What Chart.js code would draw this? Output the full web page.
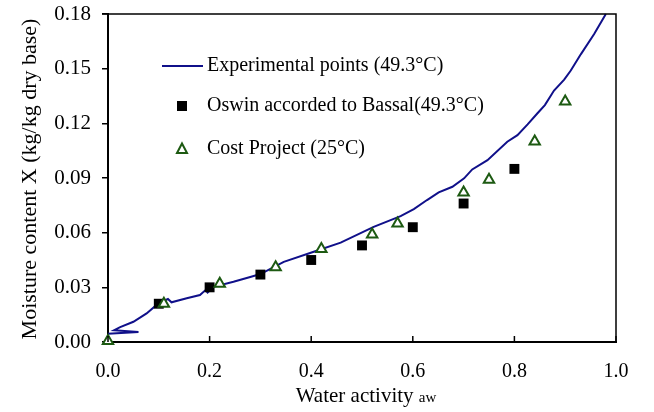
<!DOCTYPE html>
<html><head><meta charset="utf-8">
<script src="https://cdn.jsdelivr.net/npm/chart.js@4.4.1/dist/chart.umd.min.js"></script>
<style>html,body{margin:0;padding:0;background:#fff;}#wrap{width:654px;height:412px;}</style>
</head><body><div id="wrap"><canvas id="c" width="654" height="412"></canvas></div>
<script>
// ---- data ----
const expAw = [0.000, 0.060, 0.012, 0.024, 0.050, 0.076, 0.099, 0.118, 0.125, 0.155, 0.181, 0.192, 0.196, 0.208, 0.247, 0.280, 0.300, 0.346, 0.405, 0.458, 0.523, 0.576, 0.602, 0.628, 0.651, 0.678, 0.701, 0.717, 0.747, 0.786, 0.806, 0.826, 0.845, 0.860, 0.878, 0.898, 0.911, 0.931, 0.957, 0.980];
const expX  = [0.0045, 0.0055, 0.0065, 0.0082, 0.0111, 0.0157, 0.0212, 0.0236, 0.0218, 0.0240, 0.0258, 0.0285, 0.0272, 0.0303, 0.0331, 0.0357, 0.0373, 0.0440, 0.0495, 0.0545, 0.0632, 0.0691, 0.0729, 0.0779, 0.0821, 0.0852, 0.0898, 0.0947, 0.0998, 0.1099, 0.1135, 0.1194, 0.1254, 0.1300, 0.1380, 0.1440, 0.1490, 0.1580, 0.1690, 0.1800];
const oswinAw = [0.1, 0.2, 0.3, 0.4, 0.5, 0.6, 0.7, 0.8];
const oswinX  = [0.021, 0.030, 0.037, 0.045, 0.053, 0.063, 0.076, 0.095];
const costAw = [0.0, 0.11, 0.22, 0.33, 0.42, 0.52, 0.57, 0.70, 0.75, 0.84, 0.90];
const costX  = [0.0005, 0.021, 0.032, 0.041, 0.051, 0.059, 0.065, 0.082, 0.089, 0.110, 0.132];
const xTicks = [0.0, 0.2, 0.4, 0.6, 0.8, 1.0];
const yTicks = [0.00, 0.03, 0.06, 0.09, 0.12, 0.15, 0.18];
const seriesNames = ["Experimental points (49.3°C)", "Oswin accorded to Bassal(49.3°C)", "Cost Project (25°C)"];
const xTitle = "Water activity ";
const xTitleSub = "aw";
const yTitle = "Moisture content X (kg/kg dry base)";

const FONT = "'Liberation Serif', 'Times New Roman', serif";
const LINE_COLOR = '#10108a';
const TRI_COLOR = '#1d5a12';

const zip = (a, b) => a.map((v, i) => ({x: v, y: b[i]}));

const deco = {
  id: 'deco',
  afterDraw(chart) {
    const ctx = chart.ctx, a = chart.chartArea;
    const xs = chart.scales.x;
    ctx.save();
    // frame top & right
    ctx.strokeStyle = '#000'; ctx.lineWidth = 1.5;
    ctx.beginPath();
    ctx.moveTo(a.left - 6, a.top); ctx.lineTo(a.right, a.top); ctx.lineTo(a.right, a.bottom);
    ctx.stroke();
    // x ticks pointing inward
    xTicks.forEach(v => {
      const px = xs.getPixelForValue(v);
      ctx.beginPath(); ctx.moveTo(px, a.bottom); ctx.lineTo(px, a.bottom - 6); ctx.stroke();
    });
    // legend
    ctx.fillStyle = '#000';
    ctx.font = '20px ' + FONT;
    ctx.textBaseline = 'middle'; ctx.textAlign = 'left';
    const lx = 182, tx = 207, rows = [66, 106, 149];
    ctx.strokeStyle = LINE_COLOR; ctx.lineWidth = 2;
    ctx.beginPath(); ctx.moveTo(162, rows[0]); ctx.lineTo(203, rows[0]); ctx.stroke();
    ctx.fillText(seriesNames[0], tx, rows[0]);
    ctx.fillRect(lx - 5, rows[1] - 5, 10, 10);
    ctx.fillText(seriesNames[1], tx, rows[1]);
    ctx.strokeStyle = TRI_COLOR; ctx.lineWidth = 2;
    ctx.beginPath();
    ctx.moveTo(lx, rows[2] - 5.5); ctx.lineTo(lx + 5, rows[2] + 4); ctx.lineTo(lx - 5, rows[2] + 4); ctx.closePath();
    ctx.stroke();
    ctx.fillText(seriesNames[2], tx, rows[2]);
    // x title
    ctx.font = '21px ' + FONT;
    const w1 = ctx.measureText(xTitle).width;
    ctx.font = '15px ' + FONT;
    const w2 = ctx.measureText(xTitleSub).width;
    const cx = 366, by = 402;
    const sx = cx - (w1 + w2) / 2;
    ctx.textBaseline = 'alphabetic';
    ctx.font = '21px ' + FONT; ctx.fillText(xTitle, sx, by);
    ctx.font = '15px ' + FONT; ctx.fillText(xTitleSub, sx + w1, by);
    // y title
    ctx.translate(30, 179); ctx.rotate(-Math.PI / 2);
    ctx.font = '22px ' + FONT; ctx.textAlign = 'center'; ctx.textBaseline = 'middle';
    ctx.fillText(yTitle, 0, 0);
    ctx.restore();
  }
};

new Chart(document.getElementById('c'), {
  type: 'scatter',
  data: {
    datasets: [
      { label: seriesNames[1], data: zip(oswinAw, oswinX), pointStyle: 'rect', pointRadius: 7, pointHoverRadius: 7,
        backgroundColor: '#000', borderColor: '#000', borderWidth: 0, clip: false, order: 2 },
      { label: seriesNames[2], data: zip(costAw, costX), pointStyle: 'triangle', pointRadius: 6, pointHoverRadius: 6,
        backgroundColor: '#fff', borderColor: TRI_COLOR, borderWidth: 2, clip: false, order: 1 },
      { label: seriesNames[0], data: zip(expAw, expX), showLine: true, pointRadius: 0, borderColor: LINE_COLOR,
        borderWidth: 2, tension: 0, clip: false, order: 3 }
    ]
  },
  options: {
    responsive: false, animation: false, devicePixelRatio: 1,
    layout: { padding: { left: 0, top: 14, right: 38, bottom: 0 } },
    plugins: { legend: { display: false }, tooltip: { enabled: false } },
    scales: {
      x: {
        type: 'linear', min: 0, max: 1,
        afterBuildTicks: s => { s.ticks = xTicks.map(v => ({ value: v })); },
        afterFit: s => { s.height = 70; s.paddingLeft = 0; s.paddingRight = 0; },
        ticks: { callback: v => v.toFixed(1), font: { family: FONT, size: 20 }, color: '#000', padding: 18, maxRotation: 0 },
        grid: { display: true, drawOnChartArea: false, drawTicks: false },
        border: { display: true, color: '#000', width: 2 },
        title: { display: false }
      },
      y: {
        type: 'linear', min: 0, max: 0.18,
        afterBuildTicks: s => { s.ticks = yTicks.map(v => ({ value: v })); },
        afterFit: s => { s.width = 108; s.paddingTop = 0; s.paddingBottom = 0; },
        ticks: { callback: v => v.toFixed(2), font: { family: FONT, size: 21 }, color: '#000', padding: 11 },
        grid: { display: true, drawOnChartArea: false, drawTicks: true, tickLength: 6, color: '#000', lineWidth: 1.5 },
        border: { display: true, color: '#000', width: 2 },
        title: { display: false }
      }
    }
  },
  plugins: [deco]
});
</script>
</body></html>
